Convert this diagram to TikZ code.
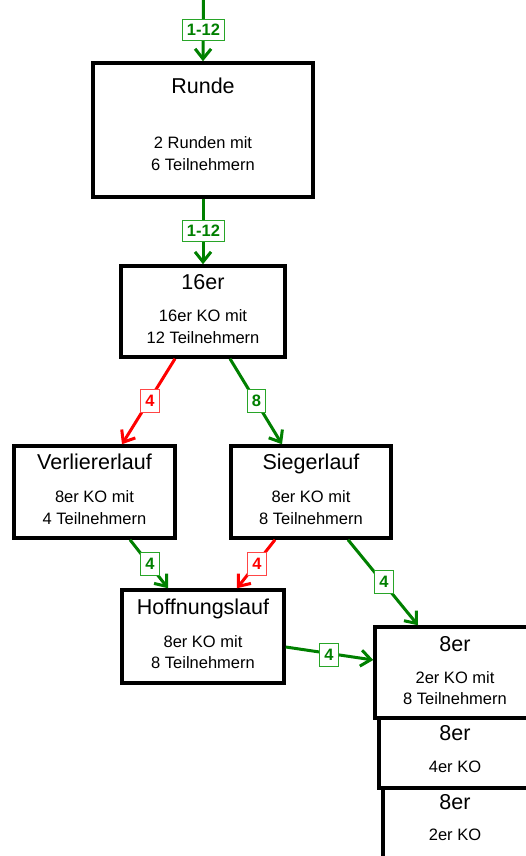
\documentclass[tikz,border=0pt]{standalone}
\usepackage{fontspec}
\setmainfont{Liberation Sans}
\usetikzlibrary{arrows.meta}
\definecolor{dgreen}{RGB}{0,128,0}
\definecolor{lgreen}{RGB}{40,165,40}
\definecolor{bred}{RGB}{255,0,0}
\definecolor{lred}{RGB}{255,70,70}
\tikzset{
  box/.style={draw=black, line width=3.5pt, fill=white, rectangle, inner sep=0pt},
  ttl/.style={font=\fontsize{21.5}{24}\selectfont, anchor=base, inner sep=0pt},
  bdy/.style={font=\fontsize{16.5}{20}\selectfont, anchor=base, inner sep=0pt},
  gcon/.style={draw=dgreen, line width=3pt, -{Straight Barb[length=10pt,width=16pt]}},
  rcon/.style={draw=bred, line width=3pt, -{Straight Barb[length=10pt,width=16pt]}},
  lab/.style={line width=1pt, fill=white, font=\fontsize{16.5}{18}\bfseries\selectfont, inner xsep=4.5pt, inner ysep=0pt, minimum height=23pt},
  glab/.style={lab, draw=lgreen, text=dgreen},
  rlab/.style={lab, draw=lred, text=bred},
  wide/.style={minimum height=20.5pt, inner xsep=4.5pt}
}
\begin{document}
\begin{tikzpicture}[x=1pt,y=-1pt]
\useasboundingbox (0,0) rectangle (526,856);
\clip (0,0) rectangle (526,856);
\fill[white] (0,0) rectangle (526,856);

% boxes
\node[box, minimum width=220pt, minimum height=134pt] (runde) at (203,130) {};
\node[box, minimum width=164pt, minimum height=91pt] (sixteen) at (203,311.5) {};
\node[box, minimum width=161pt, minimum height=92pt] (verl) at (94.5,492) {};
\node[box, minimum width=160pt, minimum height=92pt] (sieg) at (311,492) {};
\node[box, minimum width=162pt, minimum height=93pt] (hoff) at (203,636.5) {};
\node[box, minimum width=162pt, minimum height=91pt] (ea) at (456,672.5) {};
\node[box, minimum width=158pt, minimum height=70pt] (eb) at (458,753) {};
\node[box, minimum width=154pt, minimum height=82pt] (ec) at (460,829) {};

% texts
\node[ttl] (runde-t) at (203,94) {Runde};
\node[bdy] (runde-b1) at (203,148) {2 Runden mit};
\node[bdy] (runde-b2) at (203,170) {6 Teilnehmern};

\node[ttl] (six-t) at (203,289.5) {16er};
\node[bdy] (six-b1) at (203,321.5) {16er KO mit};
\node[bdy] (six-b2) at (203,343) {12 Teilnehmern};

\node[ttl] (verl-t) at (94.5,469.5) {Verliererlauf};
\node[bdy] (verl-b1) at (94.5,502.5) {8er KO mit};
\node[bdy] (verl-b2) at (94.5,524) {4 Teilnehmern};

\node[ttl] (sieg-t) at (311,469.5) {Siegerlauf};
\node[bdy] (sieg-b1) at (311,502.5) {8er KO mit};
\node[bdy] (sieg-b2) at (311,524) {8 Teilnehmern};

\node[ttl] (hoff-t) at (203,614) {Hoffnungslauf};
\node[bdy] (hoff-b1) at (203,647) {8er KO mit};
\node[bdy] (hoff-b2) at (203,668) {8 Teilnehmern};

\node[ttl] (ea-t) at (455,651) {8er};
\node[bdy] (ea-b1) at (455,683) {2er KO mit};
\node[bdy] (ea-b2) at (455,704) {8 Teilnehmern};

\node[ttl] (eb-t) at (455,740) {8er};
\node[bdy] (eb-b1) at (455,772) {4er KO};

\node[ttl] (ec-t) at (455,809) {8er};
\node[bdy] (ec-b1) at (455,840) {2er KO};

% connectors
\coordinate (top) at (203.5,-2);
\draw[gcon] (top) -- (runde.north);
\draw[gcon] (runde.south) -- (sixteen.north);
\draw[rcon] ([xshift=-28pt]sixteen.south) -- ([xshift=27.5pt]verl.north);
\draw[gcon] ([xshift=27pt]sixteen.south) -- ([xshift=-29pt]sieg.north);
\draw[gcon] ([xshift=35.5pt]verl.south) -- ([xshift=-35pt]hoff.north);
\draw[rcon] ([xshift=-36pt]sieg.south) -- ([xshift=34pt]hoff.north);
\draw[gcon] ([xshift=37pt]sieg.south) -- ([xshift=-38pt]ea.north);
\draw[gcon] ([yshift=-10.5pt]hoff.east) -- ([yshift=12.5pt]ea.west);

% labels
\node[glab, wide] (l1) at (203.5,30) {1-12};
\node[glab, wide] (l2) at (203.5,231) {1-12};
\node[rlab] (l3) at (150,401) {4};
\node[glab] (l4) at (256.5,401) {8};
\node[glab] (l5) at (150,564) {4};
\node[rlab] (l6) at (257,564) {4};
\node[glab] (l7) at (384,582) {4};
\node[glab] (l8) at (329,655) {4};
\end{tikzpicture}
\end{document}
